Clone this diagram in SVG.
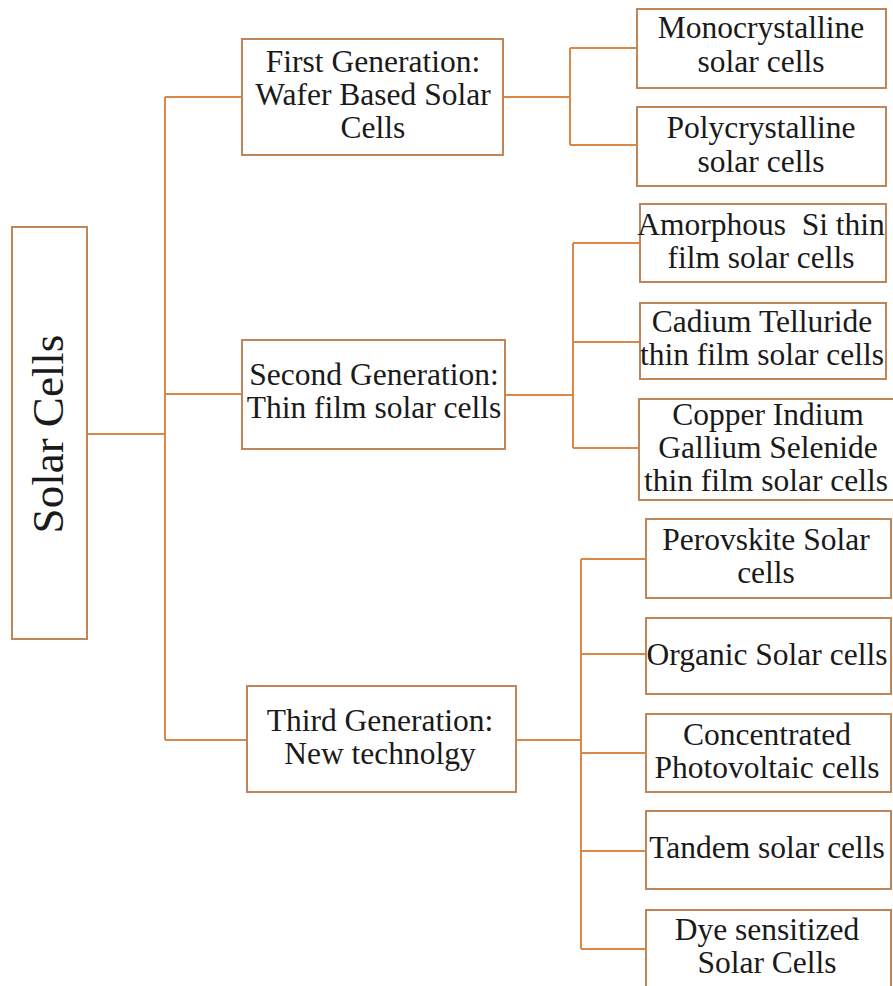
<svg xmlns="http://www.w3.org/2000/svg" width="893" height="986" viewBox="0 0 893 986">
<style>
.box{fill:#ffffff;stroke:#c08559;stroke-width:2}
.ln{fill:none;stroke:#d9884a;stroke-width:2}
text{font-family:"Liberation Serif","Times New Roman",serif;font-size:31.5px;fill:#1a1a1a;text-anchor:middle}
.big{font-size:45px}
</style>
<rect width="893" height="986" fill="#ffffff"/>
<g id="connectors">
<path class="ln" d="M87 434 H165 M165 97 V740 M165 97 H242 M165 394 H242 M165 740 H247"/>
<path class="ln" d="M503 97 H570 M570 48 V145 M570 48 H637 M570 145 H637"/>
<path class="ln" d="M505 395 H573 M573 243 V448 M573 243 H640 M573 342 H640 M573 448 H639"/>
<path class="ln" d="M516 740 H581 M581 559 V949 M581 559 H646 M581 654 H646 M581 753 H646 M581 851 H646 M581 949 H646"/>
</g>
<g id="root"><rect class="box" x="12" y="227" width="75" height="412"/><text class="big" transform="translate(63,434) rotate(-90)">Solar Cells</text></g>
<g id="gen1"><rect class="box" x="242" y="39" width="261" height="116"/><text x="373" y="72">First Generation:</text><text x="373" y="105">Wafer Based Solar</text><text x="373" y="138">Cells</text></g>
<g id="gen2"><rect class="box" x="242" y="340" width="263" height="109"/><text x="374" y="385">Second Generation:</text><text x="374" y="418">Thin film solar cells</text></g>
<g id="gen3"><rect class="box" x="247" y="686" width="269" height="106"/><text x="380" y="731">Third Generation:</text><text x="380" y="764">New technolgy</text></g>
<g id="mono"><rect class="box" x="637" y="9" width="249" height="79"/><text x="761" y="38">Monocrystalline</text><text x="761" y="72">solar cells</text></g>
<g id="poly"><rect class="box" x="637" y="107" width="249" height="79"/><text x="761" y="138">Polycrystalline</text><text x="761" y="172">solar cells</text></g>
<g id="amorph"><rect class="box" x="640" y="204" width="246" height="78"/><text x="761" y="235" xml:space="preserve">Amorphous  Si thin</text><text x="761" y="268">film solar cells</text></g>
<g id="cdte"><rect class="box" x="640" y="303" width="246" height="76"/><text x="762" y="332">Cadium Telluride</text><text x="762" y="365">thin film solar cells</text></g>
<g id="cigs"><rect class="box" x="639" y="399" width="260" height="101"/><text x="768" y="425">Copper Indium</text><text x="768" y="458">Gallium Selenide</text><text x="766" y="491">thin film solar cells</text></g>
<g id="perov"><rect class="box" x="646" y="519" width="245" height="79"/><text x="766" y="550">Perovskite Solar</text><text x="766" y="583">cells</text></g>
<g id="organic"><rect class="box" x="646" y="618" width="245" height="76"/><text x="767" y="665">Organic Solar cells</text></g>
<g id="cpv"><rect class="box" x="646" y="714" width="245" height="78"/><text x="767" y="745">Concentrated</text><text x="767" y="778">Photovoltaic cells</text></g>
<g id="tandem"><rect class="box" x="646" y="811" width="245" height="78"/><text x="767" y="858">Tandem solar cells</text></g>
<g id="dye"><rect class="box" x="646" y="910" width="245" height="90"/><text x="767" y="940">Dye sensitized</text><text x="767" y="973">Solar Cells</text></g>
</svg>
